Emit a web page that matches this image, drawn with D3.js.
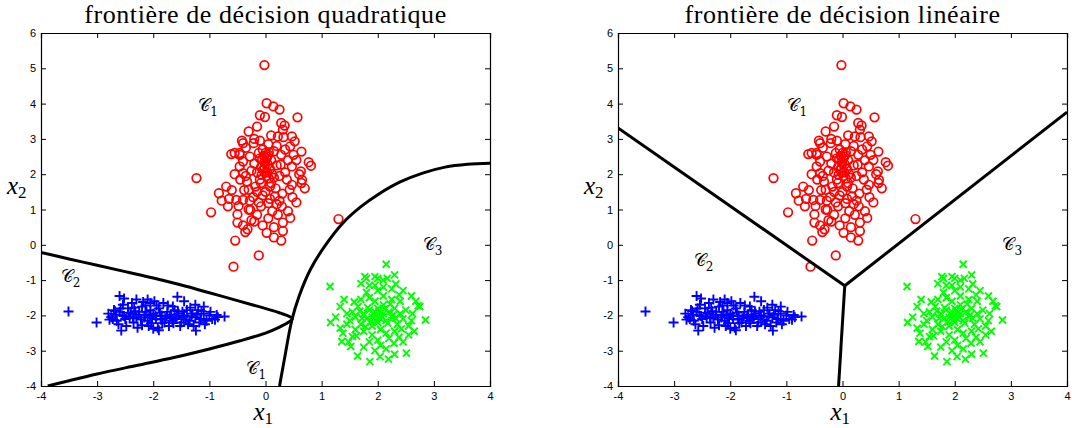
<!DOCTYPE html>
<html>
<head>
<meta charset="utf-8">
<script src="https://cdn.jsdelivr.net/npm/d3@7"></script>
<style>
  body { margin: 0; background: #fff; }
  .tick text { font-family: "Liberation Sans", Arial, sans-serif; font-size: 11px; fill: #000; }
  .title { font-family: "Liberation Serif", "DejaVu Serif", serif; font-size: 26px; letter-spacing: 0.6px; }
  .mathlab { font-family: "Liberation Serif", "DejaVu Serif", serif; font-style: italic; font-size: 25px; }
  .cls { font-family: "DejaVu Serif", serif; font-size: 17px; fill: #000; }
</style>
</head>
<body>
<div id="chart"></div>
<script>
// class C1 (red circles)
var class1 = [
  [-0.02,5.09],[0.02,4.01],[0.14,3.92],[0.25,3.83],[-0.10,3.67],[-0.01,3.62],[0.57,3.61],
  [-1.23,1.89],[-0.97,0.92],[1.30,0.73],[-0.54,0.12],[-0.12,-0.30],[-0.57,-0.62],
  [0.81,2.24],[0.77,2.34],[0.64,2.64],[0.52,2.93],[-0.30,3.21],[-0.83,1.46],[-0.78,1.25],
  [-0.67,1.09],[-0.61,2.57],[-0.46,2.55],[0.55,1.20],[0.44,0.76],[0.28,0.12],[0.15,0.21],
  [0.02,0.34],[0.31,0.39],[0.31,0.63],[-0.50,0.63],[-0.50,0.86],[-0.36,0.36],[-0.32,0.44],
  [-0.20,0.66],[0.64,1.75],[0.65,1.84],[0.63,2.08],[0.47,2.22],[0.47,1.70],[0.43,1.56],
  [0.27,2.27],[0.31,3.26],[0.34,3.38],[0.22,3.07],[0.47,3.07],[0.44,2.79],[-0.40,2.88],
  [-0.21,2.88],[-0.46,2.60],[-0.40,2.36],[-0.46,2.22],[-0.40,2.03],[-0.33,1.79],[-0.30,1.56],
  [-0.52,1.27],[-0.40,1.27],[-0.27,0.99],[-0.08,1.09],[0.05,1.18],[0.17,1.37],[0.29,1.09],
  [0.0,2.6],[-0.05,2.7],[0.05,2.55],[-0.1,2.45],[0.1,2.4],[0.0,2.3],[-0.08,2.2],[0.08,2.15],
  [-0.15,2.05],[0.12,2.0],[0.02,1.95],[-0.02,2.35],[0.03,2.5],[-0.12,2.6],[0.15,2.65],
  [-0.2,2.3],[0.2,2.25],[-0.25,2.1],[0.25,1.95],[-0.1,1.85],[0.1,1.75],[-0.18,1.65],
  [0.18,1.6],[0.0,1.5],[-0.05,1.4],[0.08,1.3],[-0.12,1.2],[0.2,1.15],[-0.22,1.35],[0.3,1.45],
  [-0.3,1.0],[0.12,0.95],[-0.15,0.85],[0.05,0.75],[0.22,0.85],[-0.35,1.95],[0.35,2.05],
  [-0.45,1.85],[0.4,2.4],[-0.28,2.5],[0.28,2.55],[-0.38,1.55],[0.38,1.85],[-0.55,2.0],
  [0.55,2.4],[-0.6,1.55],[0.6,2.0],[-0.48,1.1],[0.48,1.35],[-0.2,3.0],[0.1,3.1],[0.32,3.05],
  [-0.1,2.95],[0.2,2.8],[-0.35,2.75],[0.35,2.7],[0.05,2.85],[-0.65,1.3],[-0.7,1.65],[0.7,1.6],
  [-0.25,0.7],[0.4,0.95],[0.15,0.5],[-0.05,0.55],[-0.4,0.55],[0.08,1.65],[-0.08,1.75],
  [0.0,2.05],[-0.04,2.12],[0.04,2.28],[-0.06,2.42],[0.06,1.88],[-0.15,1.5],[0.15,1.9],
  [-0.28,1.25],[0.25,1.25],[-0.55,2.6],[0.5,2.55],[-0.15,3.35],[0.28,3.45],[-0.42,2.95],
  [0.02,2.45],[-0.03,2.52],[0.06,2.62],[-0.02,2.18],[0.03,2.05],[-0.07,1.98]
];

// class C2 (blue plus)
var class2 = [
  [-3.51,-1.89],[-3.01,-2.20],[-2.57,-2.43],[-1.24,-2.43],[-0.73,-2.03],[-0.87,-1.99],
  [-2.60,-1.45],[-1.57,-1.47],[-2.52,-1.52],[-1.10,-1.75],[-1.25,-1.70],[-1.45,-1.60],
  [-2.8,-1.95],[-2.75,-2.05],[-2.7,-1.85],[-2.65,-2.15],[-2.6,-1.9],[-2.55,-2.0],[-2.5,-2.1],
  [-2.45,-1.8],[-2.4,-1.95],[-2.35,-2.2],[-2.3,-2.05],[-2.25,-1.9],[-2.2,-1.75],[-2.15,-2.0],
  [-2.1,-2.15],[-2.05,-1.85],[-2.0,-1.95],[-1.95,-2.1],[-1.9,-1.8],[-1.85,-2.0],[-1.8,-2.2],
  [-1.75,-1.9],[-1.7,-2.05],[-1.65,-1.75],[-1.6,-2.1],[-1.55,-1.95],[-1.5,-2.2],[-1.45,-2.0],
  [-1.4,-1.85],[-1.35,-2.15],[-1.3,-1.95],[-1.25,-2.05],[-1.2,-1.85],[-1.15,-2.1],[-1.1,-1.95],
  [-1.05,-2.15],[-1.0,-2.0],[-0.95,-2.1],[-0.85,-2.05],[-2.62,-2.25],[-2.48,-2.3],[-2.38,-1.65],
  [-2.28,-2.35],[-2.18,-1.62],[-2.08,-2.3],[-1.98,-1.6],[-1.92,-2.35],[-1.82,-1.65],[-1.72,-2.3],
  [-1.62,-1.85],[-1.52,-2.3],[-1.38,-2.25],[-1.28,-2.3],[-1.18,-2.2],[-2.72,-2.1],[-2.58,-1.8],
  [-2.42,-2.05],[-2.32,-1.88],[-2.22,-2.12],[-2.12,-1.9],[-2.02,-2.08],[-1.88,-1.92],[-1.78,-2.08],
  [-1.68,-1.98],[-1.58,-2.02],[-1.48,-1.9],[-1.42,-2.12],[-1.32,-2.02],[-1.22,-1.98],[-2.66,-1.98],
  [-2.52,-2.02],[-2.44,-1.92],[-2.36,-2.08],[-2.26,-1.98],[-2.16,-2.06],[-2.06,-1.98],[-1.96,-2.02],
  [-1.86,-2.12],[-1.76,-2.02],[-1.66,-2.15],[-1.56,-1.88],[-1.46,-2.06],[-2.78,-2.12],[-2.68,-1.88],
  [-2.54,-1.7],[-2.34,-1.78],[-2.14,-1.72],[-2.04,-2.22],[-1.94,-1.72],[-1.84,-2.22],[-1.74,-1.72],
  [-1.64,-2.22],[-1.34,-1.78],[-1.14,-1.88],[-1.08,-2.25],[-0.98,-1.9],[-0.9,-2.12],[-2.2,-2.28],
  [-2.0,-2.38],[-1.9,-2.42],[-2.3,-1.55],[-2.1,-1.55],[-2.05,-1.65]
];

// class C3 (green cross)
var class3 = [
  [1.15,-1.18],[2.15,-0.55],[2.85,-2.13],[2.72,-1.73],[2.60,-1.45],[2.51,-3.07],[1.86,-3.31],
  [2.19,-3.24],[2.04,-3.17],[1.64,-3.15],[1.52,-2.88],[1.36,-2.74],[1.16,-2.20],[1.33,-2.36],
  [1.33,-1.75],[1.77,-0.90],[1.95,-0.90],[2.17,-0.95],[2.32,-1.11],[2.29,-2.79],[2.38,-2.62],
  [2.75,-1.75],[2.6,-2.15],[1.25,-2.05],[1.45,-2.25],[2.0,-2.0],[1.95,-1.9],[2.05,-2.1],
  [1.9,-2.05],[2.1,-1.95],[2.0,-1.8],[2.0,-2.2],[1.85,-1.85],[2.15,-2.15],[1.8,-2.1],[2.2,-1.9],
  [1.9,-2.3],[2.1,-1.7],[1.75,-1.95],[2.25,-2.05],[1.95,-1.6],[2.05,-2.4],[1.7,-2.25],[2.3,-1.8],
  [1.85,-1.5],[2.15,-2.5],[1.65,-1.75],[2.35,-2.25],[1.9,-2.55],[2.1,-1.45],[1.6,-2.05],
  [2.4,-1.95],[1.75,-2.45],[2.25,-1.55],[1.55,-1.9],[2.45,-2.1],[1.8,-1.35],[2.2,-2.65],
  [1.6,-2.4],[2.4,-1.6],[1.7,-1.55],[2.3,-2.45],[1.5,-2.15],[2.5,-1.85],[2.0,-1.3],[2.0,-2.7],
  [1.85,-2.75],[2.1,-1.2],[1.95,-1.15],[2.05,-2.85],[1.92,-1.95],[2.08,-2.05],[1.98,-2.12],
  [2.02,-1.88],[1.88,-2.18],[2.12,-1.82],[1.82,-1.78],[2.18,-2.22],[1.78,-2.32],[2.22,-1.68],
  [1.72,-2.08],[2.28,-1.98],[1.68,-1.88],[2.32,-2.08],[1.62,-2.58],[2.38,-1.42],[1.58,-1.62],
  [2.42,-2.38],[1.55,-2.6],[2.45,-1.3],[1.45,-1.95],[2.55,-2.3],[1.4,-1.55],[2.62,-1.95],
  [1.38,-2.5],[2.65,-2.45],[1.85,-1.15],[2.25,-1.25],[1.75,-2.9],[2.15,-2.95],[2.45,-2.75],
  [1.95,-3.0],[2.3,-3.1],[1.7,-1.1],[2.0,-0.95],[2.3,-0.85],[1.8,-0.95],[2.1,-1.0],[2.68,-1.6],
  [2.55,-2.55],[1.48,-2.75]
];

// quadratic boundaries
var quadC1C3 = [[0.25,-4],[0.33,-3.3],[0.47,-2.13],[0.6,-1.45],[0.8,-0.7],[1.05,-0.05],
  [1.38,0.62],[1.7,1.08],[2.0,1.42],[2.4,1.78],[2.8,2.03],[3.2,2.2],[3.6,2.28],[4,2.31]];
var quadC2 = [[-4,-0.22],[-3.5,-0.4],[-3,-0.58],[-2.5,-0.76],[-2,-0.94],[-1.5,-1.14],[-1,-1.36],
  [-0.5,-1.58],[-0.1,-1.76],[0.2,-1.9],[0.38,-2.0],[0.48,-2.09],[0.4,-2.2],[0.25,-2.33],[0.0,-2.5],
  [-0.45,-2.72],[-1,-2.95],[-1.65,-3.2],[-2.3,-3.42],[-3,-3.66],[-3.5,-3.85],[-3.88,-4.0]];

// linear boundaries
var linC1C2 = [[-4,3.31],[0.04,-1.16]];
var linC1C3 = [[0.04,-1.16],[4,3.76]];
var linC2C3 = [[0.04,-1.16],[-0.07,-4]];

var xTicks = [-4,-3,-2,-1,0,1,2,3,4];
var yTicks = [-4,-3,-2,-1,0,1,2,3,4,5,6];

var panels = [
  { left: 41, title: "frontière de décision quadratique",
    bounds: [quadC1C3, quadC2], smooth: true,
    labels: [["1",-1.2,3.8],["2",-3.65,-1.05],["3",2.8,-0.15],["1",-0.34,-3.65]] },
  { left: 618, title: "frontière de décision linéaire",
    bounds: [linC1C2, linC1C3, linC2C3], smooth: false,
    labels: [["1",-0.98,3.8],["2",-2.65,-0.6],["3",2.85,-0.15]] }
];

var chartW = 1072, chartH = 428, pw = 449, plotTop = 33, ph = 353;

var svg = d3.select("#chart").append("svg")
    .attr("width", chartW).attr("height", chartH);

var plainFmt = function(d) { return String(d); };

panels.forEach(function(p) {
  var x = d3.scaleLinear().domain([-4, 4]).range([0, pw]);
  var y = d3.scaleLinear().domain([-4, 6]).range([ph, 0]);

  var g = svg.append("g").attr("transform", "translate(" + p.left + "," + plotTop + ")");

  g.append("defs").append("clipPath").attr("id", "clip" + p.left)
    .append("rect").attr("width", pw).attr("height", ph);

  //axes, ticks inside on all four sides
  g.append("g").attr("transform", "translate(0," + ph + ")")
    .call(d3.axisBottom(x).tickValues(xTicks).tickSize(-5).tickPadding(6).tickFormat(plainFmt));
  g.append("g")
    .call(d3.axisLeft(y).tickValues(yTicks).tickSize(-5).tickPadding(5).tickFormat(plainFmt));
  g.append("g")
    .call(d3.axisTop(x).tickValues(xTicks).tickSize(-5).tickFormat(""));
  g.append("g").attr("transform", "translate(" + pw + ",0)")
    .call(d3.axisRight(y).tickValues(yTicks).tickSize(-5).tickFormat(""));
  g.selectAll(".domain").attr("stroke", "#000").attr("stroke-width", 1.2);
  g.selectAll(".tick line").attr("stroke", "#000");

  var plot = g.append("g").attr("clip-path", "url(#clip" + p.left + ")");

  //C1 circles
  plot.selectAll(".c1").data(class1).enter().append("circle")
    .attr("cx", function(d) { return x(d[0]); })
    .attr("cy", function(d) { return y(d[1]); })
    .attr("r", 4.3)
    .attr("fill", "none").attr("stroke", "#ff0000").attr("stroke-width", 1.7);

  //C2 plus
  plot.selectAll(".c2").data(class2).enter().append("path")
    .attr("transform", function(d) { return "translate(" + x(d[0]) + "," + y(d[1]) + ")"; })
    .attr("d", "M-5,0H5M0,-5V5")
    .attr("stroke", "#0000ff").attr("stroke-width", 1.9);

  //C3 cross
  plot.selectAll(".c3").data(class3).enter().append("path")
    .attr("transform", function(d) { return "translate(" + x(d[0]) + "," + y(d[1]) + ")"; })
    .attr("d", "M-3.5,-3.5L3.5,3.5M-3.5,3.5L3.5,-3.5")
    .attr("stroke", "#00ff00").attr("stroke-width", 1.9);

  //decision boundaries
  var lineGen = d3.line()
    .x(function(d) { return x(d[0]); })
    .y(function(d) { return y(d[1]); })
    .curve(p.smooth ? d3.curveCatmullRom.alpha(0.5) : d3.curveLinear);
  p.bounds.forEach(function(b) {
    plot.append("path").datum(b)
      .attr("d", lineGen)
      .attr("fill", "none").attr("stroke", "#000").attr("stroke-width", 3)
      .attr("stroke-linejoin", "round");
  });

  //class labels
  p.labels.forEach(function(l) {
    var t = g.append("text").attr("class", "cls")
      .attr("x", x(l[1])).attr("y", y(l[2]));
    t.append("tspan").text("𝒞");
    t.append("tspan").attr("dy", 5).attr("font-size", 12).text(l[0]);
  });

  //title
  g.append("text").attr("class", "title")
    .attr("x", pw / 2).attr("y", -10)
    .attr("text-anchor", "middle")
    .text(p.title);

  //axis labels
  var xl = g.append("text").attr("class", "mathlab")
    .attr("x", pw / 2 - 12).attr("y", ph + 34);
  xl.append("tspan").text("x");
  xl.append("tspan").attr("dy", 4).attr("font-size", 17).attr("font-style", "normal").text("1");

  var yl = g.append("text").attr("class", "mathlab")
    .attr("x", -34).attr("y", y(1.45));
  yl.append("tspan").text("x");
  yl.append("tspan").attr("dy", 4).attr("font-size", 17).attr("font-style", "normal").text("2");
});
</script>
</body>
</html>
